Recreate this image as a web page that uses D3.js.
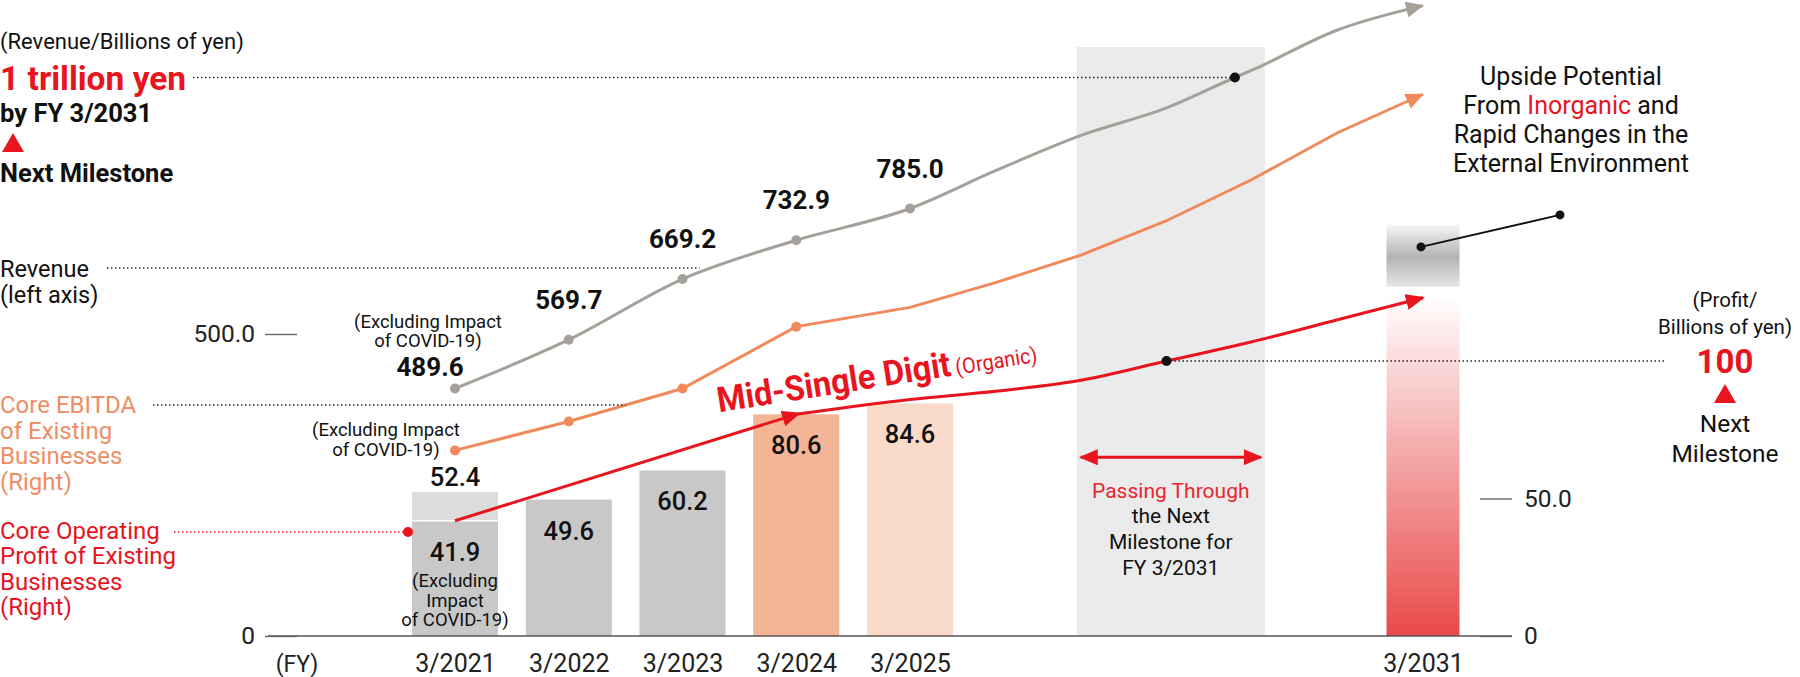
<!DOCTYPE html>
<html><head><meta charset="utf-8">
<script src="https://cdn.jsdelivr.net/npm/d3@7"></script>
<style>
html,body{margin:0;padding:0;background:#fff;}
svg{display:block;font-family:Roboto,"Noto Sans",sans-serif;}
</style></head><body>
<svg id="chart" width="1800" height="677"></svg>
<script>
// ---------------- DATA ----------------
const categories = ["3/2021","3/2022","3/2023","3/2024","3/2025"];
const fiscalYears = [2021, 2022, 2023, 2024, 2025];
const revenue = [489.6, 569.7, 669.2, 732.9, 785.0];               // left axis, billions of yen
const operatingProfit = [41.9, 49.6, 60.2, 80.6, 84.6];           // right axis
const operatingProfitInclCovid2021 = 52.4;
const ebitda = [67.5, 78.0, 90.0, 112.5, 119.5];                  // right axis (unlabelled line)
const targetCategory = "3/2031";
const targetYear = 2031;
const revenueOutlookYears = [2026, 2027, 2028, 2028.8, 2029, 2030, 2031];
const revenueOutlook      = [847, 905, 950, 1000, 1012, 1078, 1118];
const ebitdaOutlookYears  = [2026, 2027, 2028, 2029, 2030, 2031];
const ebitdaOutlook       = [128.5, 138.5, 151, 166, 183, 197];
const profitOutlookYears  = [2025, 2026, 2027, 2028, 2029, 2030, 2031];
const profitOutlook       = [86, 89, 93, 100, 107, 115, 123];
const targetProfitBarTop = 124;          // gradient bar at 3/2031
const upsideRange = [127, 149.5];        // grey gradient "upside" block
const upsideMarker = 141.5;
const revenueMilestone = 1000;  const revenueMilestoneYear = 2028.8;
const profitMilestone = 100;    const profitMilestoneYear = 2028;
const milestoneBandYears = [2026.95, 2029.15];
const leftTicks = [0, 500];
const rightTicks = [0, 50];

// ---------------- STYLE ----------------
const barColors = ["#c8c8c8", "#c8c8c8", "#c8c8c8", "#f4b496", "#fadbc9"];
const RED = "#e8141e", GREYLINE = "#a6a09b", ORANGE = "#f08a5d", ORANGE_TXT = "#ef8d63", TXT = "#111";

// ---------------- SCALES ----------------
const x = d3.scaleLinear().domain([2021, 2025, 2031]).range([455, 910, 1423]);
const yR = d3.scaleLinear().domain([0, 100]).range([636, 361]);          // profit (right)
const yRev = d3.scaleLinear().domain([489.6, 1000]).range([388.5, 77.5]); // revenue line
const yRevAxis = d3.scaleLinear().domain([0, 500]).range([636, 334]);    // left axis ticks (broken axis)
const barW = 86, targetW = 73;

const svg = d3.select("#chart");
const defs = svg.append("defs");

function marker(id, color, w, h, back) {
  defs.append("marker").attr("id", id)
    .attr("viewBox", `0 ${-h/2} ${w} ${h}`).attr("refX", w - back).attr("refY", 0)
    .attr("markerWidth", w).attr("markerHeight", h)
    .attr("markerUnits", "userSpaceOnUse").attr("orient", "auto-start-reverse")
    .append("path").attr("d", `M0,${-h/2}L${w},0L0,${h/2}Z`).attr("fill", color);
}
marker("arGrey", GREYLINE, 18, 16, 1);
marker("arOrange", ORANGE, 18, 16, 1);
marker("arRed", RED, 19, 16, 2);
marker("arRed2", RED, 19, 16, 5);

const gR = defs.append("linearGradient").attr("id", "gRed").attr("gradientUnits", "userSpaceOnUse")
  .attr("x1", 0).attr("x2", 0).attr("y1", yR(targetProfitBarTop)).attr("y2", yR(0));
gR.append("stop").attr("offset", 0).attr("stop-color", "#e84646").attr("stop-opacity", 0);
gR.append("stop").attr("offset", 0.45).attr("stop-color", "#e84646").attr("stop-opacity", 0.45);
gR.append("stop").attr("offset", 1).attr("stop-color", "#e84646").attr("stop-opacity", 0.98);
const gG = defs.append("linearGradient").attr("id", "gGrey").attr("gradientUnits", "userSpaceOnUse")
  .attr("x1", 0).attr("x2", 0).attr("y1", yR(upsideRange[1])).attr("y2", yR(upsideRange[0]));
gG.append("stop").attr("offset", 0).attr("stop-color", "#f6f6f6");
gG.append("stop").attr("offset", 0.52).attr("stop-color", "#b3b3b3");
gG.append("stop").attr("offset", 1).attr("stop-color", "#e6e6e6");

// milestone band
svg.append("rect")
  .attr("x", x(milestoneBandYears[0])).attr("width", x(milestoneBandYears[1]) - x(milestoneBandYears[0]))
  .attr("y", yRev(1050)).attr("height", yR(0) - yRev(1050)).attr("fill", "#ebebeb");

// bars
const barData = fiscalYears.map((fy, i) => ({fy, v: operatingProfit[i], c: barColors[i], cat: categories[i]}));
svg.append("rect").attr("x", x(2021) - barW/2).attr("width", barW)
  .attr("y", yR(operatingProfitInclCovid2021)).attr("height", yR(operatingProfit[0]) - yR(operatingProfitInclCovid2021))
  .attr("fill", "#dcdcdc");
svg.selectAll(".bar").data(barData).join("rect")
  .attr("x", d => x(d.fy) - barW/2).attr("width", barW)
  .attr("y", d => yR(d.v)).attr("height", d => yR(0) - yR(d.v)).attr("fill", d => d.c);
svg.append("line").attr("x1", x(2021) - barW/2).attr("x2", x(2021) + barW/2)
  .attr("y1", yR(operatingProfit[0])).attr("y2", yR(operatingProfit[0])).attr("stroke", "#fff").attr("stroke-width", 1.5);

// 3/2031 target bar
svg.append("rect").attr("x", x(targetYear) - targetW/2).attr("width", targetW)
  .attr("y", yR(targetProfitBarTop)).attr("height", yR(0) - yR(targetProfitBarTop)).attr("fill", "url(#gRed)");
svg.append("rect").attr("x", x(targetYear) - targetW/2).attr("width", targetW)
  .attr("y", yR(upsideRange[1])).attr("height", yR(upsideRange[0]) - yR(upsideRange[1])).attr("fill", "url(#gGrey)");

// baseline
svg.append("line").attr("x1", 268).attr("x2", 1512).attr("y1", yR(0)).attr("y2", yR(0))
  .attr("stroke", "#5a5252").attr("stroke-width", 1.6);

// axes
const styleAxis = (size) => g => {
  g.select(".domain").remove();
  g.selectAll(".tick line").attr("stroke", "#666").attr("stroke-width", 1.4);
  g.selectAll(".tick text").attr("font-size", size).attr("fill", "#222").attr("font-family", "Roboto");
};
svg.append("g").attr("transform", "translate(297,0)")
  .call(d3.axisLeft(yRevAxis).tickValues(leftTicks).tickFormat(d => d === 0 ? "0" : d3.format(".1f")(d)).tickSize(32).tickPadding(10))
  .call(styleAxis(24.5));
svg.append("g").attr("transform", "translate(1480,0)")
  .call(d3.axisRight(yR).tickValues(rightTicks).tickFormat(d => d === 0 ? "0" : d3.format(".1f")(d)).tickSize(32).tickPadding(12))
  .call(styleAxis(24.5));
const xTickYears = fiscalYears.concat([targetYear]);
const xLabels = categories.concat([targetCategory]);
svg.append("g").attr("transform", `translate(0,${yR(0)})`)
  .call(d3.axisBottom(x).tickValues(xTickYears).tickFormat((d, i) => xLabels[i]).tickSize(0).tickPadding(18))
  .call(styleAxis(25));

// lines
const lineRev = d3.line().x(d => x(d[0])).y(d => yRev(d[1])).curve(d3.curveMonotoneX);
const revPts = fiscalYears.map((f, i) => [f, revenue[i]]).concat(revenueOutlookYears.map((f, i) => [f, revenueOutlook[i]]));
svg.append("path").attr("d", lineRev(revPts)).attr("fill", "none").attr("stroke", GREYLINE)
  .attr("stroke-width", 3).attr("marker-end", "url(#arGrey)");

const lineR = d3.line().x(d => x(d[0])).y(d => yR(d[1]));
const ebPts = fiscalYears.map((f, i) => [f, ebitda[i]]).concat(ebitdaOutlookYears.map((f, i) => [f, ebitdaOutlook[i]]));
svg.append("path").attr("d", lineR(ebPts)).attr("fill", "none").attr("stroke", ORANGE)
  .attr("stroke-width", 3).attr("marker-end", "url(#arOrange)");

// operating profit trend
const opSeg1 = [[fiscalYears[0], operatingProfit[0]], [fiscalYears[3], operatingProfit[3]]];
svg.append("path").attr("d", lineR(opSeg1)).attr("fill", "none").attr("stroke", RED)
  .attr("stroke-width", 3).attr("marker-end", "url(#arRed2)");
const opSeg2 = [[fiscalYears[3], operatingProfit[3]]].concat(profitOutlookYears.map((f, i) => [f, profitOutlook[i]]));
const lineRcurve = d3.line().x(d => x(d[0])).y(d => yR(d[1])).curve(d3.curveMonotoneX);
svg.append("path").attr("d", lineRcurve(opSeg2)).attr("fill", "none").attr("stroke", RED)
  .attr("stroke-width", 3).attr("marker-end", "url(#arRed)");

// points
svg.selectAll(".revDot").data(fiscalYears).join("circle")
  .attr("cx", d => x(d)).attr("cy", (d, i) => yRev(revenue[i])).attr("r", 5).attr("fill", GREYLINE);
svg.selectAll(".ebDot").data(fiscalYears.slice(0, 4)).join("circle")
  .attr("cx", d => x(d)).attr("cy", (d, i) => yR(ebitda[i])).attr("r", 5).attr("fill", ORANGE);

// dotted leader lines
function dotted(x1, y1, x2, y2, color) {
  svg.append("line").attr("x1", x1).attr("x2", x2).attr("y1", y1).attr("y2", y2)
    .attr("stroke", color || "#222").attr("stroke-width", 1.5).attr("stroke-dasharray", "1.5,2.5");
}
dotted(193, yRev(revenueMilestone), x(revenueMilestoneYear), yRev(revenueMilestone));
dotted(107, 268, x(2023.15), 268);
dotted(153, 405, x(2022.5), 405);
dotted(174, 532, 404, 532, RED);
dotted(x(profitMilestoneYear), yR(profitMilestone), 1666, yR(profitMilestone));
svg.append("circle").attr("cx", 408).attr("cy", 532).attr("r", 5).attr("fill", RED);
svg.append("circle").attr("cx", x(revenueMilestoneYear)).attr("cy", yRev(revenueMilestone)).attr("r", 5).attr("fill", "#111");
svg.append("circle").attr("cx", x(profitMilestoneYear)).attr("cy", yR(profitMilestone)).attr("r", 5).attr("fill", "#111");

// upside connector
const upX = x(targetYear) - 2, upY = yR(upsideMarker);
svg.append("line").attr("x1", upX).attr("y1", upY).attr("x2", upX + 139).attr("y2", upY - 32).attr("stroke", "#111").attr("stroke-width", 2);
svg.append("circle").attr("cx", upX).attr("cy", upY).attr("r", 4.5).attr("fill", "#111");
svg.append("circle").attr("cx", upX + 139).attr("cy", upY - 32).attr("r", 4.5).attr("fill", "#111");

// double arrow in milestone band
svg.append("line").attr("x1", x(milestoneBandYears[0]) + 4).attr("x2", x(milestoneBandYears[1]) - 4)
  .attr("y1", yR(65)).attr("y2", yR(65)).attr("stroke", RED).attr("stroke-width", 3)
  .attr("marker-start", "url(#arRed)").attr("marker-end", "url(#arRed)");

// ---------------- TEXT ----------------
function txt(str, xx, yy, opt = {}) {
  const t = svg.append("text").attr("x", xx).attr("y", yy)
    .attr("font-size", opt.size || 23).attr("fill", opt.color || TXT)
    .attr("font-weight", opt.weight || 400).attr("text-anchor", opt.anchor || "start");
  t.text(str);
  return t;
}
// revenue labels
fiscalYears.forEach((f, i) => {
  if (i === 0) return;
  txt(d3.format(".1f")(revenue[i]), x(f), yRev(revenue[i]) - 31, {size: 26, weight: 700, anchor: "middle"});
});
txt(d3.format(".1f")(revenue[0]), x(2021) - 25, yRev(revenue[0]) - 13, {size: 26, weight: 700, anchor: "middle"});
txt("(Excluding Impact", x(2021) - 27, 328, {size: 18.5, anchor: "middle"});
txt("of COVID-19)", x(2021) - 27, 347, {size: 18.5, anchor: "middle"});
txt("(Excluding Impact", 386, 436, {size: 18.5, anchor: "middle"});
txt("of COVID-19)", 386, 456, {size: 18.5, anchor: "middle"});

// bar labels
barData.forEach(d => txt(d3.format(".1f")(d.v), x(d.fy), yR(d.v) + 40, {size: 25.5, weight: 500, anchor: "middle"}));
txt(d3.format(".1f")(operatingProfitInclCovid2021), x(2021), yR(operatingProfitInclCovid2021) - 6, {size: 25.5, weight: 500, anchor: "middle"});
["(Excluding", "Impact", "of COVID-19)"].forEach((s, i) => txt(s, x(2021), 587 + i * 19.5, {size: 18.5, anchor: "middle"}));

// top-left
txt("(Revenue/Billions of yen)", 0, 49, {size: 22});
txt("1 trillion yen", 0, 90, {size: 33.5, weight: 700, color: RED});
txt("by FY 3/2031", 0, 122, {size: 25.5, weight: 700});
svg.append("path").attr("d", "M2,152L13,133L24,152Z").attr("fill", RED);
txt("Next Milestone", 0, 182, {size: 25.5, weight: 700});
txt("Revenue", 0, 277, {size: 23.5});
txt("(left axis)", 0, 303, {size: 23.5});
["Core EBITDA", "of Existing", "Businesses", "(Right)"].forEach((s, i) => txt(s, 0, 413 + i * 25.5, {size: 24, color: ORANGE_TXT}));
["Core Operating", "Profit of Existing", "Businesses", "(Right)"].forEach((s, i) => txt(s, 0, 539 + i * 25.3, {size: 24, color: RED}));
txt("(FY)", 297, 672, {size: 23, anchor: "middle", color: "#222"});

// Mid-single digit
const ms = svg.append("text").attr("transform", `translate(719,${yR(operatingProfit[3]) - 2}) rotate(-9) scale(0.93,1)`)
  .attr("fill", RED);
ms.append("tspan").attr("font-size", 35).attr("font-weight", 700).text("Mid-Single Digit");
ms.append("tspan").attr("font-size", 21.5).attr("dx", 5).text("(Organic)");

// band text
const bandCx = x((milestoneBandYears[0] + milestoneBandYears[1]) / 2);
txt("Passing Through", bandCx, 498, {size: 21, anchor: "middle", color: "#e8262c"});
["the Next", "Milestone for", "FY 3/2031"].forEach((s, i) => txt(s, bandCx, 523 + i * 26, {size: 21, anchor: "middle"}));

// upside text
txt("Upside Potential", 1571, 85, {size: 25, anchor: "middle"});
const t2 = txt("", 1571, 114, {size: 25, anchor: "middle"});
t2.append("tspan").text("From ");
t2.append("tspan").attr("fill", RED).text("Inorganic");
t2.append("tspan").text(" and");
txt("Rapid Changes in the", 1571, 143, {size: 25, anchor: "middle"});
txt("External Environment", 1571, 172, {size: 25, anchor: "middle"});

// right milestone
txt("(Profit/", 1725, 307, {size: 20.5, anchor: "middle"});
txt("Billions of yen)", 1725, 334, {size: 20.5, anchor: "middle"});
txt(String(profitMilestone), 1725, 373, {size: 33, weight: 700, anchor: "middle", color: RED});
svg.append("path").attr("d", "M1714,403L1725,384L1736,403Z").attr("fill", RED);
txt("Next", 1725, 432, {size: 24.5, anchor: "middle"});
txt("Milestone", 1725, 462, {size: 24.5, anchor: "middle"});
</script>
</body></html>
